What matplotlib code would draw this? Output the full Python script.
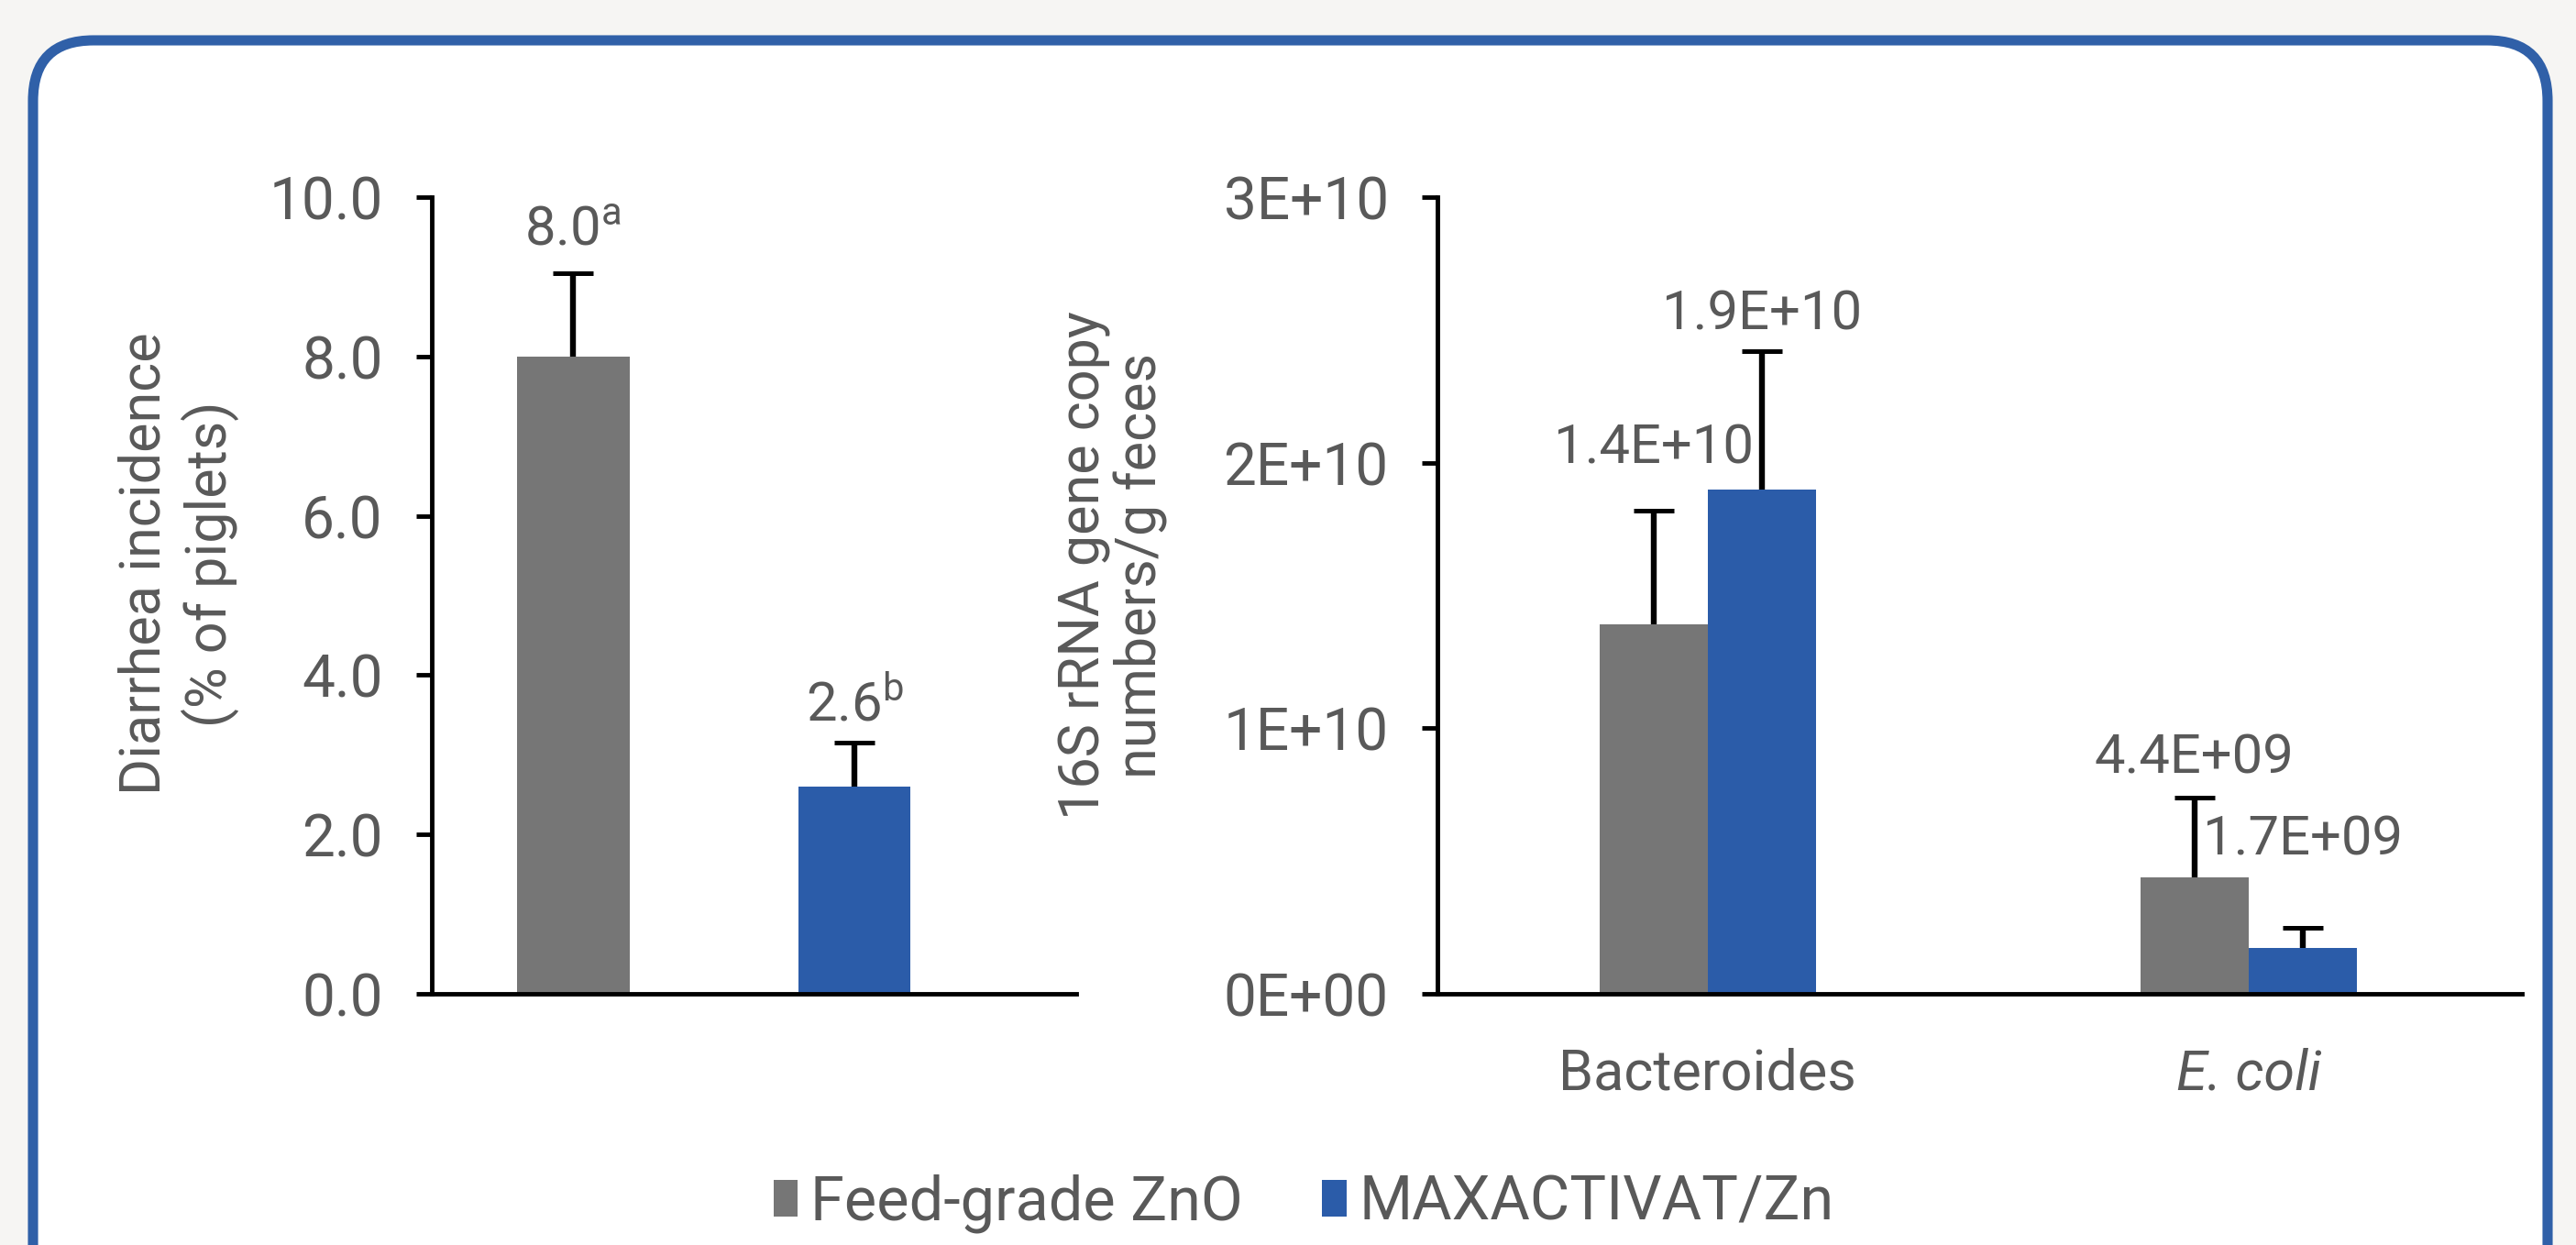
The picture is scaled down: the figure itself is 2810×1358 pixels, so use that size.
import numpy as np
import matplotlib
matplotlib.use("Agg")
import matplotlib.pyplot as plt
from matplotlib.patches import FancyBboxPatch, Patch

# ── Data ──────────────────────────────────────────────────────
treatments = ["Feed-grade ZnO", "MAXACTIVAT/Zn"]

# Panel A: diarrhea incidence (% of piglets)
diarrhea = [8.0, 2.6]
diarrhea_err = [1.05, 0.55]
diarrhea_labels = ["8.0$^{\\mathrm{a}}$", "2.6$^{\\mathrm{b}}$"]
diarrhea_ticks = [0, 2, 4, 6, 8, 10]

# Panel B: 16S rRNA gene copy numbers / g feces
bacteria = ["Bacteroides", "E. coli"]
copies_zno = [1.39e10, 4.4e9]
copies_zno_err = [0.43e10, 0.30e10]
copies_max = [1.90e10, 1.73e9]
copies_max_err = [0.52e10, 0.075e10]
copies_zno_labels = ["1.4E+10", "4.4E+09"]
copies_max_labels = ["1.9E+10", "1.7E+09"]
copies_ticks = [0, 1e10, 2e10, 3e10]
copies_tick_labels = ["0E+00", "1E+10", "2E+10", "3E+10"]

# ── Style ─────────────────────────────────────────────────────
GRAY = "#767676"
BLUE = "#2b5ca9"
FRAME = "#3060a8"
TXT = "#595959"
FS_TICK = 23
FS_LAB = 22
FS_VAL = 21.5
FS_LEG = 24
LW = 1.75

plt.rcParams.update({
    "font.family": ["Roboto", "DejaVu Sans"],
    "font.size": FS_TICK,
    "mathtext.fontset": "custom",
    "mathtext.rm": "Roboto",
    "mathtext.it": "Roboto:italic",
    "text.color": TXT,
    "xtick.color": "black",
    "ytick.color": "black",
    "xtick.labelcolor": TXT,
    "ytick.labelcolor": TXT,
})

W, H, DPI = 2810, 1358, 200
fig = plt.figure(figsize=(W / DPI, H / DPI), dpi=DPI, facecolor="#f6f5f3")

# rounded frame
bg = fig.add_axes([0, 0, 1, 1], zorder=0)
bg.set_xlim(0, W)
bg.set_ylim(H, 0)
bg.axis("off")
bg.add_patch(FancyBboxPatch((36, 44), 2743, 1420,
                            boxstyle="round,pad=0,rounding_size=66",
                            facecolor="white", edgecolor=FRAME, linewidth=4))


def style_axes(ax):
    ax.set_facecolor("none")
    for s in ["top", "right"]:
        ax.spines[s].set_visible(False)
    for s in ["left", "bottom"]:
        ax.spines[s].set_linewidth(LW)
        ax.spines[s].set_color("black")
    ax.tick_params(axis="y", direction="out", length=6.2, width=LW, pad=13,
                   labelsize=FS_TICK)
    ax.tick_params(axis="x", length=0)


def upper_only(bars):
    # Excel "plus" error bars: drop the cap drawn at the bar top
    caps = bars.errorbar.lines[1]
    caps[0].set_visible(False)


err_kw = dict(ecolor="black", elinewidth=2.3, capsize=8, capthick=1.8)

# ── Panel A ───────────────────────────────────────────────────
ax1 = fig.add_axes([471 / W, 1 - 1084 / H, 703 / W, 869 / H], zorder=1)
style_axes(ax1)
x1 = np.arange(len(treatments))
b = ax1.bar(x1, diarrhea, width=0.4, color=[GRAY, BLUE],
            yerr=[[0, 0], diarrhea_err], error_kw=err_kw)
upper_only(b)
for xi, v, e, lab, off in zip(x1, diarrhea, diarrhea_err, diarrhea_labels, [17, 15]):
    ax1.annotate(lab, xy=(xi, v + e), xytext=(0, off), textcoords="offset points",
                 ha="center", va="center", fontsize=FS_VAL)
ax1.set_xlim(-0.502, 1.788)
ax1.set_ylim(0, 10)
ax1.set_yticks(diarrhea_ticks)
ax1.set_yticklabels([f"{t:.1f}" for t in diarrhea_ticks])
ax1.set_xticks([])
fig.text(0.0694, 0.547, "Diarrhea incidence\n(% of piglets)", rotation=90,
         ha="center", va="center", fontsize=FS_LAB, linespacing=1.23)

# ── Panel B ───────────────────────────────────────────────────
ax2 = fig.add_axes([1568 / W, 1 - 1084 / H, 1183 / W, 869 / H], zorder=1)
style_axes(ax2)
x2 = np.arange(len(bacteria))
bw = 0.2
b = ax2.bar(x2 - bw / 2, copies_zno, width=bw, color=GRAY,
            yerr=[[0, 0], copies_zno_err], error_kw=err_kw)
upper_only(b)
b = ax2.bar(x2 + bw / 2, copies_max, width=bw, color=BLUE,
            yerr=[[0, 0], copies_max_err], error_kw=err_kw)
upper_only(b)
for xi, v, e, lab, off in zip(x2 - bw / 2, copies_zno, copies_zno_err,
                              copies_zno_labels, [24.5, 15.4]):
    ax2.annotate(lab, xy=(xi, v + e), xytext=(0, off), textcoords="offset points",
                 ha="center", va="center", fontsize=FS_VAL)
for xi, v, e, lab, off in zip(x2 + bw / 2, copies_max, copies_max_err,
                              copies_max_labels, [14.5, 34.5]):
    ax2.annotate(lab, xy=(xi, v + e), xytext=(0, off), textcoords="offset points",
                 ha="center", va="center", fontsize=FS_VAL)
ax2.set_xlim(-0.5, 1.506)
ax2.set_ylim(0, 3e10)
ax2.set_yticks(copies_ticks)
ax2.set_yticklabels(copies_tick_labels)
ax2.set_xticks(x2)
ax2.set_xticklabels(bacteria, fontsize=FS_LAB)
ax2.get_xticklabels()[1].set_style("italic")
ax2.tick_params(axis="x", pad=21)
fig.text(0.432, 0.546, "16S rRNA gene copy\nnumbers/g feces", rotation=90,
         ha="center", va="center", fontsize=FS_LAB, linespacing=1.06)

# ── Legend ────────────────────────────────────────────────────
handles = [Patch(facecolor=c, edgecolor="none") for c in [GRAY, BLUE]]
fig.legend(handles, treatments, loc="center", bbox_to_anchor=(0.506, 0.033),
           ncol=2, frameon=False, handlelength=0.4, handleheight=0.55,
           handletextpad=0.2, columnspacing=1.3, fontsize=FS_LEG)

fig.savefig("out.png", dpi=DPI, facecolor=fig.get_facecolor())
